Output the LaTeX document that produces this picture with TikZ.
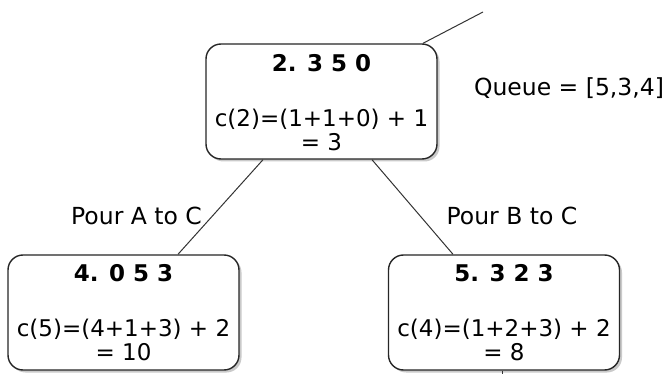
\documentclass[tikz,border=0pt]{standalone}
\usepackage{fontspec}
\setmainfont{DejaVu Sans}
\usetikzlibrary{shadows,calc}
\tikzset{
  statebox/.style={draw=black!85, line width=1.4pt, rounded corners=15pt, fill=white,
    minimum width=231pt, minimum height=115pt, inner sep=0pt,
    drop shadow={shadow xshift=2.5pt, shadow yshift=-2.5pt, opacity=0.35, fill=black!60}},
  edge/.style={draw=black!80, line width=1pt},
  txt/.style={font=\fontsize{23}{24}\selectfont, inner sep=0pt, align=center},
  ttl/.style={font=\fontsize{23}{24}\selectfont\bfseries, inner sep=0pt},
  lbl/.style={font=\fontsize{23.5}{25}\selectfont, inner sep=0pt}
}
\begin{document}
\begin{tikzpicture}[x=1pt,y=-1pt]
\useasboundingbox (0,0) rectangle (670,374);
% boxes
\node[statebox] (top) at (321.5,101.5) {};
\node[statebox] (left) at (123.5,312.5) {};
\node[statebox] (right) at (504,312.5) {};
% box texts
\node[ttl] (tt) at (321.5,63) {2. 3 5 0};
\node[txt] (tf) at (321.5,130) {c(2)=(1+1+0) + 1\\= 3};
\node[ttl] (lt) at (123.5,273) {4. 0 5 3};
\node[txt] (lf) at (123.5,340) {c(5)=(4+1+3) + 2\\= 10};
\node[ttl] (rt) at (504,273) {5. 3 2 3};
\node[txt] (rf) at (504,340) {c(4)=(1+2+3) + 2\\= 8};
% labels
\node[lbl] (la) at (136.5,216) {Pour A to C};
\node[lbl] (lb) at (512,216) {Pour B to C};
\node[lbl] (q) at (569,88) {Queue = [5,3,4]};
% connectors
\coordinate (up) at (483,12);
\coordinate (down) at (502,374);
\draw[edge] ($(top.north)+(101.5,0)$) -- (up);
\draw[edge] ($(top.south)+(-58.5,0)$) -- ($(left.north)+(54.5,0)$);
\draw[edge] ($(top.south)+(50.5,0)$) -- ($(right.north)+(-51,0)$);
\draw[edge] (right.south) ++(-2,0) -- (down);
\end{tikzpicture}
\end{document}
